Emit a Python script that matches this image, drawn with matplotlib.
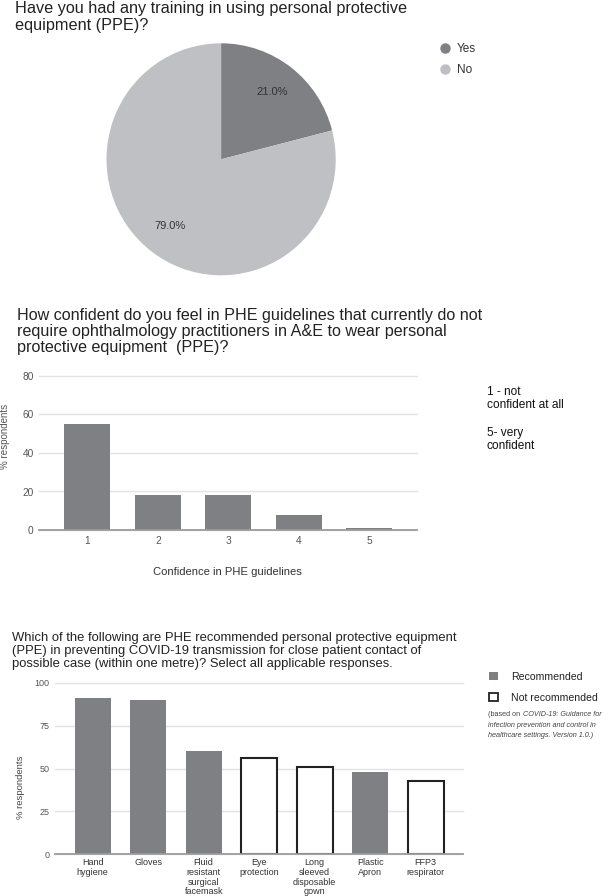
import matplotlib.pyplot as plt
from matplotlib.lines import Line2D
from matplotlib.patches import Patch

plt.rcParams['font.family'] = ['Liberation Sans', 'DejaVu Sans']

W, H = 608, 896

# Have you had any training in using PPE?
training_labels = ['Yes', 'No']
training_share = [21.0, 79.0]

# Confidence in PHE guidelines (1 = not confident at all, 5 = very confident)
confidence_levels = [1, 2, 3, 4, 5]
confidence_pct = [55, 18, 18, 8, 1]

# Which PPE is PHE recommended?
ppe_items = ['Hand\nhygiene', 'Gloves', 'Fluid\nresistant\nsurgical\nfacemask',
             'Eye\nprotection', 'Long\nsleeved\ndisposable\ngown',
             'Plastic\nApron', 'FFP3\nrespirator']
ppe_pct = [91, 90, 60, 56, 51, 48, 43]
ppe_recommended = [True, True, True, False, False, True, False]

dark = '#7f8084'
light = '#bfc0c4'
grid_col = '#e3e3e3'


def box(x0, y0, x1, y1):
    # pixel box (top-left origin) -> figure fraction rect
    return [x0 / W, 1 - y1 / H, (x1 - x0) / W, (y1 - y0) / H]


def fx(x):
    return x / W


def fy(y):
    return 1 - y / H


fig = plt.figure(figsize=(W / 100, H / 100), dpi=100)

# ---- pie chart ----
fig.text(fx(15), fy(1.5), 'Have you had any training in using personal protective\nequipment (PPE)?',
         fontsize=11.7, color='#222', va='top', ha='left', linespacing=1.12)

ax1 = fig.add_axes(box(106.5, 43.3, 335.7, 275.3))
wedges, texts, autotexts = ax1.pie(training_share, colors=[dark, light], startangle=90,
                                   counterclock=False, autopct='%.1f%%', pctdistance=0.73,
                                   textprops={'fontsize': 8, 'color': '#333'},
                                   wedgeprops={'linewidth': 0})
ax1.set_aspect('auto')
ax1.set_xlim(-1, 1)
ax1.set_ylim(-1, 1)

pie_handles = [Line2D([], [], marker='o', linestyle='', markersize=6.5,
                      markerfacecolor=c, markeredgecolor=c) for c in [dark, light]]
fig.legend(pie_handles, training_labels, loc='upper left', bbox_to_anchor=(fx(440.5), fy(43.5)),
           frameon=False, fontsize=8.5, borderpad=0, borderaxespad=0, handlelength=0.76,
           handletextpad=0.6, labelspacing=0.75, labelcolor='#333')

# ---- confidence bar chart ----
fig.text(fx(17), fy(308), 'How confident do you feel in PHE guidelines that currently do not\n'
         'require ophthalmology practitioners in A&E to wear personal\n'
         'protective equipment  (PPE)?',
         fontsize=11.6, color='#222', va='top', ha='left', linespacing=1.07)

ax2 = fig.add_axes(box(39.3, 376, 417.3, 530))
ax2.bar(confidence_levels, confidence_pct, width=0.65, color=dark, zorder=2)
ax2.set_xlim(0.32, 5.68)
ax2.set_ylim(0, 80)
ax2.set_yticks(range(0, 81, 20))
ax2.set_xticks(confidence_levels)
ax2.grid(axis='y', color=grid_col, linewidth=1)
ax2.set_axisbelow(True)
for gl in ax2.get_ygridlines():
    gl.set_clip_on(False)
for s in ['top', 'right', 'left']:
    ax2.spines[s].set_visible(False)
ax2.spines['bottom'].set_color('#9b9b9b')
ax2.spines['bottom'].set_linewidth(1.3)
ax2.tick_params(length=0, labelsize=7.3, labelcolor='#555', pad=4)
fig.text(fx(5), fy(436), '% respondents', rotation=90, fontsize=7, color='#555',
         ha='center', va='center')
fig.text(fx(227), fy(572), 'Confidence in PHE guidelines', fontsize=8.1, color='#333',
         ha='center', va='center')

fig.text(fx(486.7), fy(385.5), '1 - not\nconfident at all', fontsize=8.6, color='#111',
         va='top', ha='left', linespacing=1.2)
fig.text(fx(486.7), fy(426.5), '5- very\nconfident', fontsize=8.6, color='#111',
         va='top', ha='left', linespacing=1.2)

# ---- recommended PPE bar chart ----
fig.text(fx(12), fy(632), 'Which of the following are PHE recommended personal protective equipment\n'
         '(PPE) in preventing COVID-19 transmission for close patient contact of\n'
         'possible case (within one metre)? Select all applicable responses.',
         fontsize=9.4, color='#222', va='top', ha='left', linespacing=1.1)

ax3 = fig.add_axes(box(55, 682.7, 463.3, 854.3))
xpos = list(range(len(ppe_items)))
face = [dark if r else 'white' for r in ppe_recommended]
edge = [dark if r else '#222' for r in ppe_recommended]
lw = [0 if r else 1.5 for r in ppe_recommended]
ax3.bar(xpos, ppe_pct, width=0.65, color=face, edgecolor=edge, linewidth=lw, zorder=2)
ax3.set_xlim(-0.68, 6.68)
ax3.set_ylim(0, 100)
ax3.set_yticks(range(0, 101, 25))
ax3.set_xticks(xpos)
ax3.set_xticklabels(ppe_items, linespacing=1.08)
ax3.grid(axis='y', color=grid_col, linewidth=1)
ax3.set_axisbelow(True)
for gl in ax3.get_ygridlines():
    gl.set_clip_on(False)
for s in ['top', 'right', 'left']:
    ax3.spines[s].set_visible(False)
ax3.spines['bottom'].set_color('#9b9b9b')
ax3.spines['bottom'].set_linewidth(1.3)
ax3.tick_params(axis='y', length=0, labelsize=6.5, labelcolor='#555', pad=4)
ax3.tick_params(axis='x', length=0, labelsize=6.5, labelcolor='#333', pad=3)
fig.text(fx(20.7), fy(787), '% respondents', rotation=90, fontsize=6.8, color='#444',
         ha='center', va='center')

ppe_handles = [Patch(facecolor=dark, edgecolor=dark, linewidth=0),
               Patch(facecolor='white', edgecolor='#222', linewidth=1.3)]
fig.legend(ppe_handles, ['Recommended', 'Not recommended'], loc='upper left',
           bbox_to_anchor=(fx(489.3), fy(671.5)), frameon=False, fontsize=7.6, borderpad=0,
           borderaxespad=0, handlelength=0.8, handleheight=0.8, handletextpad=1.25,
           labelspacing=1.05, labelcolor='#222')

# source note: "(based on" upright, the title of the guidance in italics
note_size = 5.25
note_x = 488
t_based = fig.text(fx(note_x), fy(715), '(based on ', fontsize=note_size, color='#444',
                   va='center', ha='left')
ax3.annotate('COVID-19: Guidance for', xy=(1, 0.5), xycoords=t_based, xytext=(0.3, 0),
             textcoords='offset points', fontsize=note_size, color='#444',
             va='center', ha='left', style='italic', annotation_clip=False)
fig.text(fx(note_x), fy(725.7), 'infection prevention and control in', fontsize=note_size,
         color='#444', va='center', ha='left', style='italic')
fig.text(fx(note_x), fy(735.7), 'healthcare settings. Version 1.0.)', fontsize=note_size,
         color='#444', va='center', ha='left', style='italic')

fig.savefig('out.png', dpi=100)
